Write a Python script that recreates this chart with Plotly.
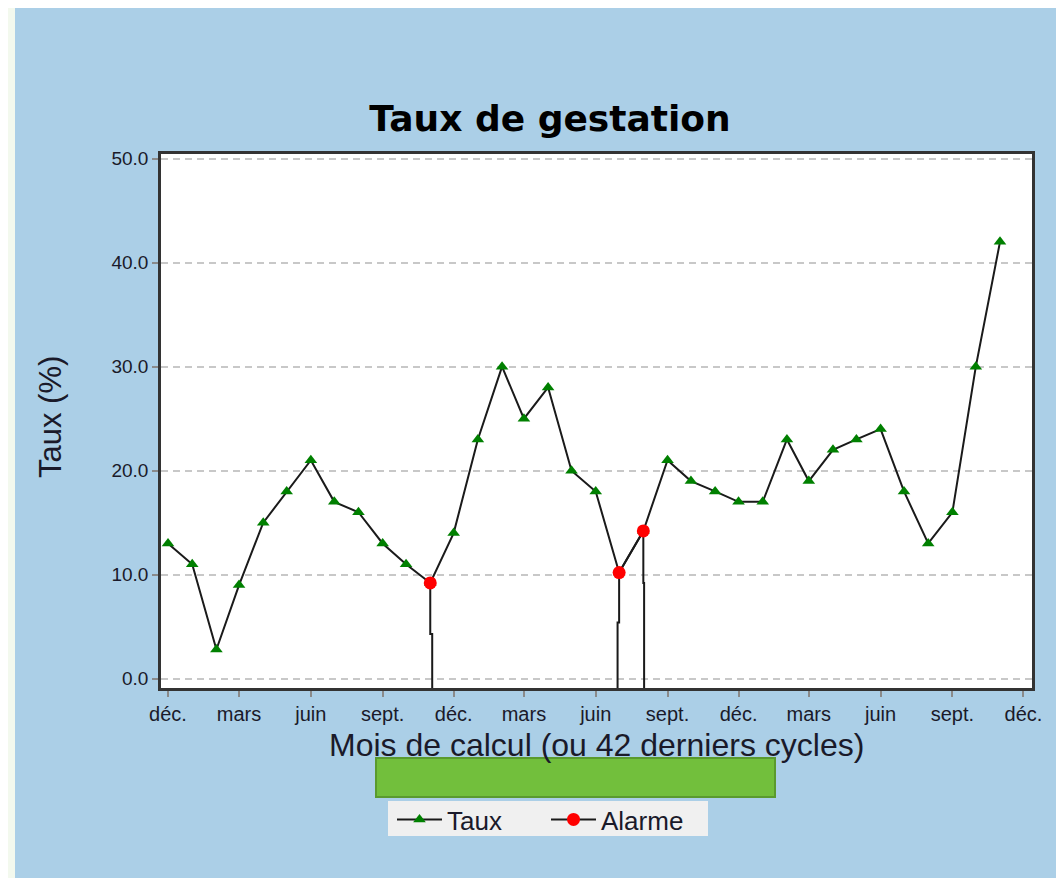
import plotly.graph_objects as go
import pandas as pd

# ---- data ----
months = [d.strftime("%Y-%m-%d") for d in pd.date_range("2019-12-01", periods=36, freq="MS")]
taux = [13, 11, 2.8, 9, 15, 18, 21, 17, 16, 13, 11, 9.2,
        14, 23, 30, 25, 28, 20, 18, 10.2, 14.2, 21, 19, 18,
        17, 17, 23, 19, 22, 23, 24, 18, 13, 16, 30, 42]
alarm_idx = [11, 19, 20]
alarm_jog_level = [4.3, 5.4, 9.2]
alarm_jog_days = [2.5, -2, 1]
tick_dates = [d.strftime("%Y-%m-%d") for d in pd.date_range("2019-12-01", periods=13, freq="3MS")]
tick_text = ["déc.", "mars", "juin", "sept."] * 3 + ["déc."]
y_ticks = [0, 10, 20, 30, 40, 50]

alarme = [taux[i] if i in alarm_idx else None for i in range(len(taux))]

# drop lines under alarms
drop_x, drop_y = [], []
for i, lvl, off in zip(alarm_idx, alarm_jog_level, alarm_jog_days):
    d = pd.Timestamp(months[i])
    d2 = d + pd.Timedelta(days=off)
    drop_x += [d, d, d2, d2, None]
    drop_y += [taux[i], lvl, lvl, -5, None]

fig = go.Figure()
fig.add_trace(go.Scatter(
    x=drop_x, y=drop_y, mode="lines", line=dict(color="#1a1a1a", width=2),
    showlegend=False, hoverinfo="skip"))
fig.add_trace(go.Scatter(
    x=months, y=taux, mode="lines+markers", name="Taux",
    line=dict(color="#1a1a1a", width=2),
    marker=dict(symbol="triangle-up", size=11, color="#008000")))
fig.add_trace(go.Scatter(
    x=months, y=alarme, mode="lines+markers", name="Alarme",
    connectgaps=False,
    line=dict(color="#1a1a1a", width=2),
    marker=dict(symbol="circle", size=13, color="#ff0000")))

OFF = 8  # page body margin
W, H = 1064 - OFF, 878 - OFF
L, R, T, B = 161 - OFF, 1032 - OFF, 154 - OFF, 688 - OFF
pw, ph = R - L, B - T

def px(x):  # reference page pixel -> paper
    return (x - OFF - L) / pw

def py(y):
    return (B - (y - OFF)) / ph

fig.update_layout(
    width=W, height=H,
    margin=dict(l=L, r=W - R, t=T, b=H - B, pad=0),
    paper_bgcolor="#abcfe7",
    plot_bgcolor="#ffffff",
    font=dict(family="Liberation Sans, Arial, sans-serif", color="#1a1a2a"),
    title=dict(text="<b>Taux de gestation</b>", xref="container", yref="container",
               x=(550 - OFF) / W, y=1 - (118 - OFF) / H, xanchor="center", yanchor="middle",
               font=dict(family="DejaVu Sans", size=36, color="#000000")),
    showlegend=True,
    legend=dict(orientation="h", x=px(392), y=py(796), xanchor="left", yanchor="top",
                bgcolor="rgba(0,0,0,0)", font=dict(size=26, color="#1a1a2a"),
                itemwidth=45, entrywidth=94, entrywidthmode="pixels"),
    shapes=[
        dict(type="rect", xref="paper", yref="paper", x0=-0.3, x1=px(15), y0=-0.5, y1=1.5,
             fillcolor="#f3f9ee", line=dict(width=0), layer="above"),
        dict(type="rect", xref="paper", yref="paper", x0=px(376), x1=px(775), y0=py(797), y1=py(758),
             fillcolor="#72bf3c", line=dict(color="#5a9a2e", width=2), layer="above"),
        dict(type="rect", xref="paper", yref="paper", x0=px(388), x1=px(708), y0=py(836), y1=py(801),
             fillcolor="#f0f0f0", line=dict(width=0), layer="above"),
    ],
    annotations=[
        dict(text="Mois de calcul (ou 42 derniers cycles)", xref="paper", yref="paper",
             x=0.5, y=py(745), xanchor="center", yanchor="middle", showarrow=False,
             font=dict(size=32, color="#1a1a2a")),
        dict(text="Taux (%)", xref="paper", yref="paper", textangle=-90,
             x=px(50), y=py(417), xanchor="center", yanchor="middle", showarrow=False,
             font=dict(size=31, color="#1a1a2a")),
    ],
)

fig.update_xaxes(
    type="date", range=["2019-11-22", "2022-12-12"],
    tickvals=tick_dates, ticktext=tick_text,
    ticks="outside", ticklen=6, tickcolor="#8a8a8a", tickwidth=1.5,
    tickfont=dict(size=20),
    showgrid=False, zeroline=False,
    showline=True, linecolor="#333333", linewidth=2.5, mirror=True,
)
fig.update_yaxes(
    range=[-0.9, 50.45],
    tickvals=y_ticks, tickformat=".1f",
    ticks="outside", ticklen=6, tickcolor="#8a8a8a", tickwidth=1.5,
    tickfont=dict(size=19),
    showgrid=True, gridcolor="#c8c8c8", gridwidth=1.5, griddash="7px,5px",
    zeroline=False,
    showline=True, linecolor="#333333", linewidth=2.5, mirror=True,
)

fig.write_html("out.html")
